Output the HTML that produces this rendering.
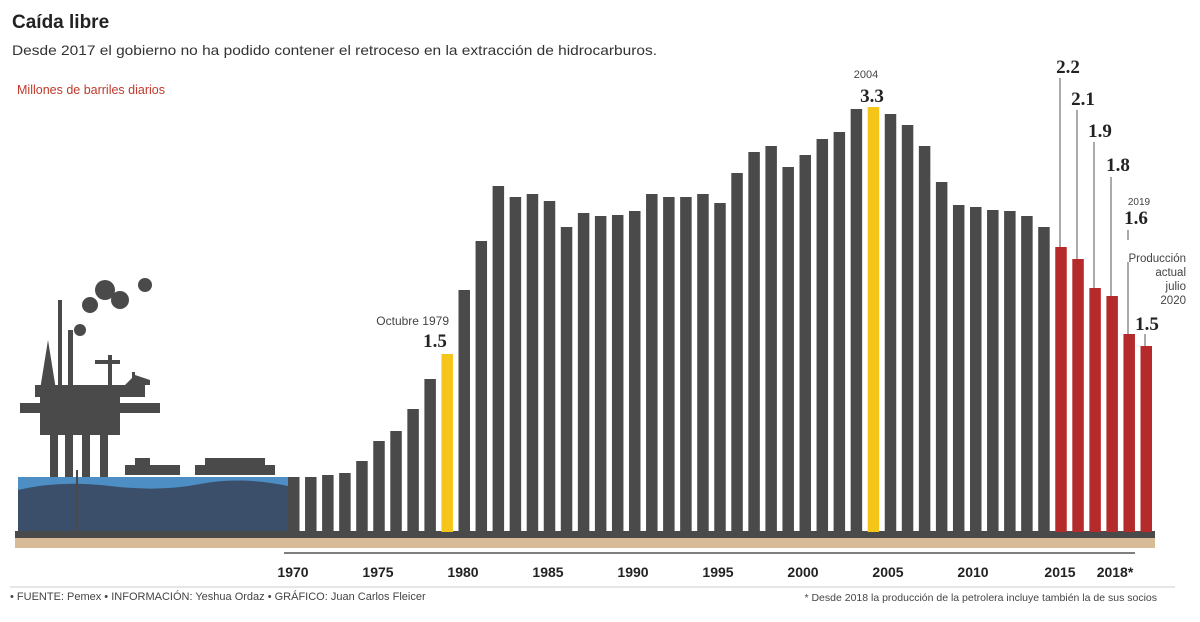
<!DOCTYPE html>
<html><head><meta charset="utf-8"><style>
body{margin:0;background:#fff;width:1200px;height:617px;overflow:hidden;font-family:"Liberation Sans",sans-serif}
</style></head><body>
<svg width="1200" height="617" xmlns="http://www.w3.org/2000/svg" font-family="Liberation Sans, sans-serif">
<text x="12" y="28" font-size="19" font-weight="bold" fill="#222">Caída libre</text>
<text x="12" y="55" font-size="14" fill="#333" textLength="645" lengthAdjust="spacingAndGlyphs">Desde 2017 el gobierno no ha podido contener el retroceso en la extracción de hidrocarburos.</text>
<text x="17" y="94" font-size="12.5" fill="#c0392b">Millones de barriles diarios</text>
<!-- water -->
<rect x="18" y="477" width="270" height="55" fill="#4d8fc4"/>
<path d="M18 490 Q60 480 110 486 T200 484 T288 486 L288 532 L18 532Z" fill="#3b4f6b"/>
<!-- platform -->
<g fill="#4a4a4a">
<rect x="50" y="430" width="8" height="47"/><rect x="65" y="430" width="8" height="47"/><rect x="82" y="430" width="8" height="47"/><rect x="100" y="430" width="8" height="47"/>
<rect x="76" y="470" width="2" height="62"/>
<rect x="40" y="395" width="80" height="40"/><rect x="20" y="403" width="140" height="10"/>
<rect x="35" y="385" width="110" height="12"/>
<rect x="58" y="300" width="4" height="90"/><rect x="68" y="330" width="5" height="60"/>
<path d="M40 390 L48 340 L56 390Z"/><rect x="95" y="360" width="25" height="4"/><rect x="108" y="355" width="4" height="35"/>
<path d="M125 385 L135 375 L150 380 L150 385Z"/><rect x="132" y="372" width="3" height="13"/>
<circle cx="105" cy="290" r="10"/><circle cx="120" cy="300" r="9"/><circle cx="90" cy="305" r="8"/><circle cx="145" cy="285" r="7"/><circle cx="80" cy="330" r="6"/>
<rect x="125" y="465" width="55" height="10"/><rect x="135" y="458" width="15" height="8"/>
<rect x="195" y="465" width="80" height="10"/><rect x="205" y="458" width="60" height="7"/>
</g>
<rect x="15" y="531" width="1140" height="7" fill="#4a4a4a"/>
<rect x="15" y="538" width="1140" height="10" fill="#d6bb96"/>
<g id="bars"></g>
<line x1="284" y1="553" x2="1135" y2="553" stroke="#555" stroke-width="1.5"/>
<g font-size="14" font-weight="bold" fill="#222" text-anchor="middle">
<text x="293" y="577">1970</text><text x="378" y="577">1975</text><text x="463" y="577">1980</text><text x="548" y="577">1985</text><text x="633" y="577">1990</text><text x="718" y="577">1995</text><text x="803" y="577">2000</text><text x="888" y="577">2005</text><text x="973" y="577">2010</text><text x="1060" y="577">2015</text><text x="1115" y="577">2018*</text>
</g>
<line x1="10" y1="587" x2="1175" y2="587" stroke="#ccc"/>
<text x="10" y="600" font-size="11" fill="#444">• FUENTE: Pemex • INFORMACIÓN: Yeshua Ordaz • GRÁFICO: Juan Carlos Fleicer</text>
<text x="1157" y="601" font-size="10.5" fill="#444" text-anchor="end">* Desde 2018 la producción de la petrolera incluye también la de sus socios</text>
<g font-family="Liberation Serif, serif" font-weight="bold" font-size="19" fill="#222">
<text x="872" y="102" text-anchor="middle">3.3</text>
<text x="435" y="347" text-anchor="middle">1.5</text>
<text x="1068" y="73" text-anchor="middle">2.2</text>
<text x="1083" y="105" text-anchor="middle">2.1</text>
<text x="1100" y="137" text-anchor="middle">1.9</text>
<text x="1118" y="171" text-anchor="middle">1.8</text>
<text x="1136" y="224" text-anchor="middle">1.6</text>
<text x="1147" y="330" text-anchor="middle">1.5</text>
</g>
<text x="866" y="78" font-size="11" fill="#444" text-anchor="middle">2004</text>
<text x="449" y="325" font-size="12" fill="#444" text-anchor="end">Octubre 1979</text>
<text x="1139" y="205" font-size="10" fill="#444" text-anchor="middle">2019</text>
<g font-size="11.5" fill="#444" text-anchor="end">
<text x="1186" y="262">Producción</text><text x="1186" y="276">actual</text><text x="1186" y="290">julio</text><text x="1186" y="304">2020</text>
</g>
<g stroke="#555" stroke-width="1">
<line x1="1060" y1="78" x2="1060" y2="247"/><line x1="1077" y1="110" x2="1077" y2="259"/><line x1="1094" y1="142" x2="1094" y2="288"/><line x1="1111" y1="177" x2="1111" y2="296"/><line x1="1128" y1="230" x2="1128" y2="240"/><line x1="1128" y1="262" x2="1128" y2="334"/><line x1="1145" y1="334" x2="1145" y2="346"/>
</g>
</svg>
<script>
var tops=[477,477,475,473,461,441,431,409,379,354,290,241,186,197,194,201,227,213,216,215,211,194,197,197,194,203,173,152,146,167,155,139,132,109,107,114,125,146,182,205,207,210,211,216,227,247,259,288,296,334,346];
var g=document.getElementById('bars'),s='';
tops.forEach(function(t,i){var y=1970+i;var c=(y==1979||y==2004)?'#f5c519':(y>=2015?'#b52b2b':'#4a4a4a');
s+='<rect x="'+(288+i*17.05)+'" y="'+t+'" width="11.5" height="'+(532-t)+'" fill="'+c+'"/>';});
g.innerHTML=s;
</script>
</body></html>
